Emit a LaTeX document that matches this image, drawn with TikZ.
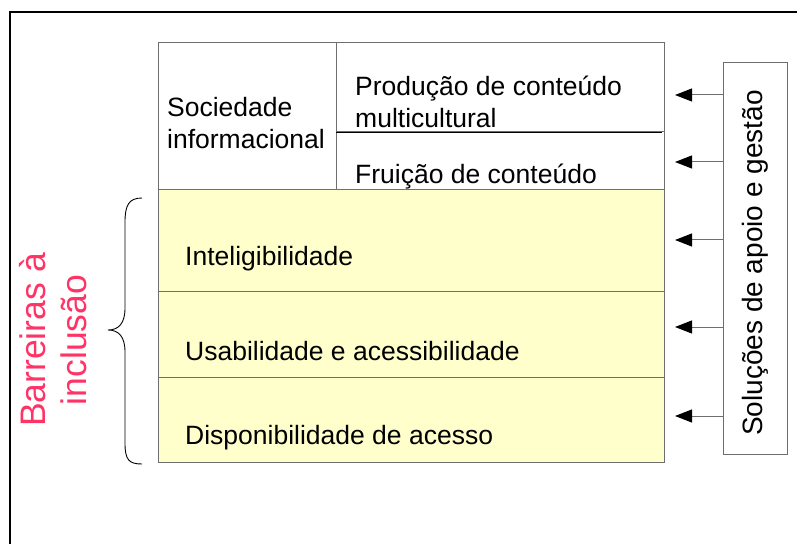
\documentclass[tikz,border=0pt]{standalone}
\usepackage{fontspec}
\setmainfont{Liberation Sans}
\usetikzlibrary{arrows.meta}
\definecolor{cellyellow}{RGB}{255,255,204}
\definecolor{cellgray}{RGB}{110,110,110}
\definecolor{barpink}{RGB}{255,51,102}
\begin{document}
\begin{tikzpicture}[x=1bp,y=-1bp,
  cell/.style={draw=cellgray,line width=1.2bp},
  ycell/.style={cell,fill=cellyellow},
  lbl/.style={anchor=west,inner sep=0pt,font=\fontsize{26.5bp}{32bp}\selectfont,align=left},
  arr/.style={draw=cellgray,line width=1bp,-{Triangle[length=17bp,width=13bp,fill=black,color=black]}}]
\useasboundingbox (0,0) rectangle (797,544);
% outer frame
\draw[line width=2.5bp] (10,544) -- (10,12) -- (797,12);
% cells
\node[cell,minimum width=178bp,minimum height=147bp,anchor=north west,inner sep=0pt] (soc) at (158,42) {};
\node[cell,minimum width=328bp,minimum height=89bp,anchor=north west,inner sep=0pt] (prod) at (336,42) {};
\node[cell,minimum width=328bp,minimum height=58bp,anchor=north west,inner sep=0pt] (frui) at (336,131) {};
\draw[line width=1.2bp] (prod.south west) -- ([xshift=-3bp]prod.south east);
\node[ycell,minimum width=506bp,minimum height=102bp,anchor=north west,inner sep=0pt] (intel) at (158,189) {};
\node[ycell,minimum width=506bp,minimum height=86bp,anchor=north west,inner sep=0pt] (usab) at (158,291) {};
\node[ycell,minimum width=506bp,minimum height=85bp,anchor=north west,inner sep=0pt] (disp) at (158,377) {};
% texts
\node[lbl] (socT) at (167,123) {Sociedade\\informacional};
\node[lbl] (prodT) at (355,102) {Produção de conteúdo\\multicultural};
\node[lbl] (fruiT) at (355,177) {Fruição de conteúdo};
\node[lbl] (intelT) at (185,259) {Inteligibilidade};
\node[lbl] (usabT) at (185,351) {Usabilidade e acessibilidade};
\node[lbl] (dispT) at (185,438) {Disponibilidade de acesso};
% right box
\node[cell,minimum width=64bp,minimum height=392bp,anchor=north west,inner sep=0pt] (sol) at (723,62) {};
\node[rotate=90,inner sep=0pt,font=\fontsize{28bp}{34bp}\selectfont] (solT) at ([yshift=-4.5bp]sol.center) {Soluções de apoio e gestão};
% arrows
\coordinate (a1) at (675,95);
\coordinate (a2) at (675,162);
\coordinate (a3) at (675,240);
\coordinate (a4) at (675,327);
\coordinate (a5) at (675,416);
\foreach \i in {1,...,5} \draw[arr] (sol.west |- a\i) -- (a\i);
% brace
\draw[line width=0.9bp] (142,198) .. controls (129,198) and (125,205) .. (125,222) -- (125,308)
  .. controls (125,323) and (119,330) .. (108,330)
  .. controls (119,330) and (125,337) .. (125,352) -- (125,443)
  .. controls (125,460) and (129,464) .. (142,464);
\node[rotate=90,inner sep=0pt,align=center,text=barpink,font=\fontsize{35.5bp}{41bp}\selectfont] (bar) at (53,340) {Barreiras à\\inclusão};
\end{tikzpicture}
\end{document}
